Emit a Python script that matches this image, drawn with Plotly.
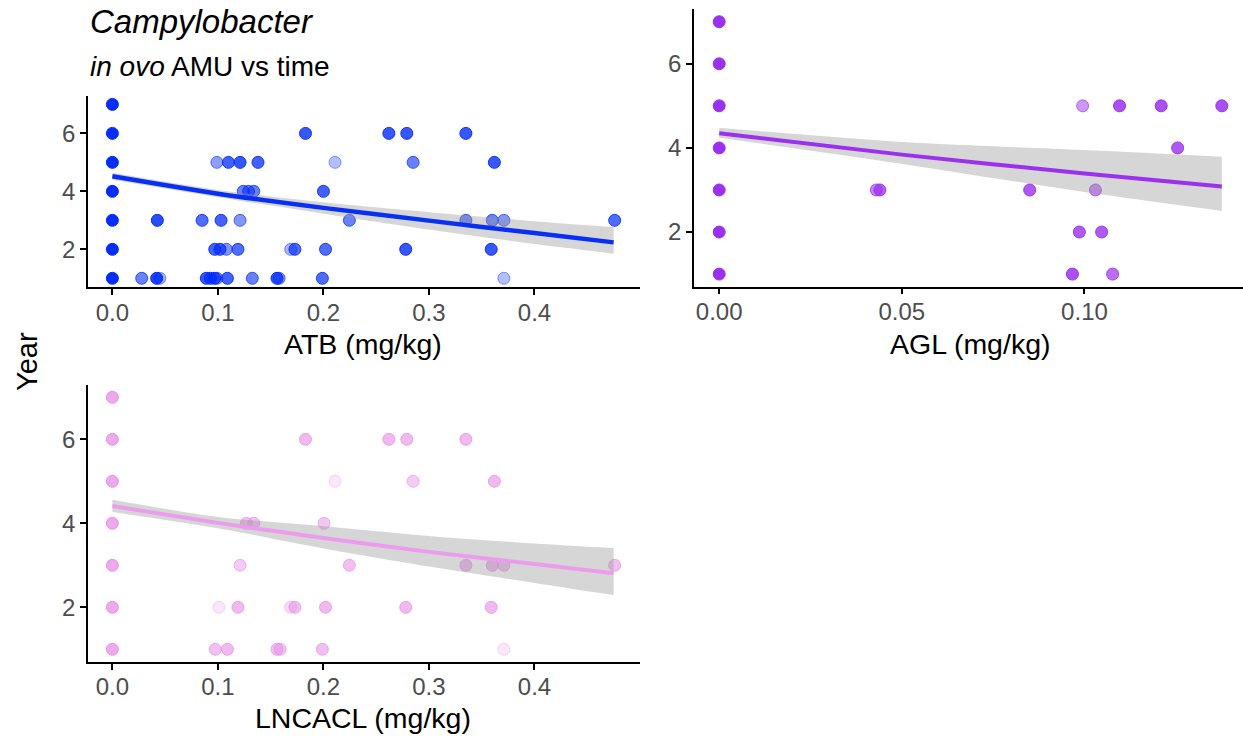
import plotly.graph_objects as go

# ---------------- data ----------------
# ATB panel (x = ATB mg/kg, y = Year, alpha = point opacity as seen)
atb_x = [0,
         0, 0.183, 0.262, 0.279, 0.335,
         0, 0.099, 0.110, 0.121, 0.138, 0.211, 0.285, 0.362,
         0, 0.124, 0.129, 0.134, 0.200,
         0, 0.0426, 0.085, 0.103, 0.121, 0.2246, 0.335, 0.360, 0.371, 0.476,
         0, 0.097, 0.102, 0.108, 0.119, 0.169, 0.173, 0.202, 0.278, 0.359,
         0, 0.0278, 0.042, 0.045, 0.089, 0.093, 0.097, 0.099, 0.109, 0.1326, 0.156, 0.158, 0.199, 0.371]
atb_year = [7,
            6, 6, 6, 6, 6,
            5, 5, 5, 5, 5, 5, 5, 5,
            4, 4, 4, 4, 4,
            3, 3, 3, 3, 3, 3, 3, 3, 3, 3,
            2, 2, 2, 2, 2, 2, 2, 2, 2, 2,
            1, 1, 1, 1, 1, 1, 1, 1, 1, 1, 1, 1, 1, 1]
atb_alpha = [1,
             1, 0.8, 0.8, 0.8, 0.8,
             1, 0.45, 0.75, 0.8, 0.75, 0.3, 0.6, 0.8,
             1, 0.6, 0.6, 0.6, 0.75,
             1, 0.85, 0.7, 0.75, 0.5, 0.6, 0.6, 0.6, 0.5, 0.7,
             1, 0.75, 0.75, 0.5, 0.7, 0.35, 0.7, 0.7, 0.8, 0.8,
             1, 0.6, 0.9, 0.35, 0.8, 0.8, 0.8, 0.5, 0.75, 0.6, 0.8, 0.5, 0.7, 0.3]

# AGL panel
agl_x = [0, 0, 0, 0, 0, 0, 0,
         0.043, 0.044, 0.085, 0.103,
         0.0995, 0.1096, 0.121, 0.1376,
         0.1255,
         0.0986, 0.1047,
         0.0967, 0.1077]
agl_year = [7, 6, 5, 4, 3, 2, 1,
            3, 3, 3, 3,
            5, 5, 5, 5,
            4,
            2, 2,
            1, 1]
agl_alpha = [1, 1, 1, 1, 1, 1, 1,
             0.6, 0.75, 0.8, 0.6,
             0.5, 0.85, 0.85, 0.85,
             0.8,
             0.8, 0.8,
             0.85, 0.7]

# LNCACL panel
lnc_x = [0,
         0, 0.183, 0.262, 0.279, 0.335,
         0, 0.211, 0.285, 0.362,
         0, 0.127, 0.134, 0.2006,
         0, 0.121, 0.2246, 0.335, 0.360, 0.371, 0.476,
         0, 0.101, 0.119, 0.169, 0.173, 0.202, 0.278, 0.359,
         0, 0.0975, 0.109, 0.156, 0.159, 0.199, 0.371]
lnc_year = [7,
            6, 6, 6, 6, 6,
            5, 5, 5, 5,
            4, 4, 4, 4,
            3, 3, 3, 3, 3, 3, 3,
            2, 2, 2, 2, 2, 2, 2, 2,
            1, 1, 1, 1, 1, 1, 1]
lnc_alpha = [0.75,
             0.75, 0.6, 0.6, 0.6, 0.6,
             0.75, 0.2, 0.45, 0.6,
             0.75, 0.55, 0.55, 0.5,
             0.75, 0.45, 0.55, 0.6, 0.6, 0.55, 0.55,
             0.75, 0.2, 0.6, 0.3, 0.55, 0.6, 0.6, 0.6,
             0.75, 0.55, 0.6, 0.55, 0.5, 0.55, 0.2]

# fitted trends with confidence band
atb_fit_x = [0, 0.1, 0.2, 0.3, 0.4, 0.475]
atb_fit_y = [4.52, 3.92, 3.43, 2.99, 2.56, 2.24]
atb_fit_lo = [4.40, 3.80, 3.23, 2.68, 2.18, 1.85]
atb_fit_hi = [4.64, 4.05, 3.62, 3.28, 2.97, 2.76]

agl_fit_x = [0, 0.05, 0.10, 0.1376]
agl_fit_y = [4.35, 3.84, 3.39, 3.08]
agl_fit_lo = [4.24, 3.62, 2.95, 2.50]
agl_fit_hi = [4.48, 4.14, 3.95, 3.79]

lnc_fit_x = [0, 0.1, 0.2, 0.3, 0.4, 0.475]
lnc_fit_y = [4.41, 4.01, 3.65, 3.32, 3.03, 2.81]
lnc_fit_lo = [4.27, 3.88, 3.40, 2.97, 2.58, 2.29]
lnc_fit_hi = [4.56, 4.15, 3.93, 3.70, 3.52, 3.41]

y_ticks = [2, 4, 6]
atb_ticks = [0.0, 0.1, 0.2, 0.3, 0.4]
agl_ticks = [0.00, 0.05, 0.10]
lnc_ticks = [0.0, 0.1, 0.2, 0.3, 0.4]

# ---------------- figure ----------------
W, H = 1243, 736
FONT = "Liberation Sans, Arial, sans-serif"


def rgba(rgb, a):
    return "rgba(%d,%d,%d,%.3f)" % (rgb[0], rgb[1], rgb[2], a)


fig = go.Figure()


def add_panel(xs, ys, alphas, fx, fy, flo, fhi, rgb, line_rgb, lw, xa, ya):
    fig.add_trace(go.Scatter(
        x=xs, y=ys, mode="markers", xaxis=xa, yaxis=ya, showlegend=False,
        marker=dict(size=12, color=[rgba(rgb, a) for a in alphas],
                    line=dict(width=1, color=[rgba(rgb, min(1, a + 0.15)) for a in alphas])),
        hoverinfo="skip"))
    fig.add_trace(go.Scatter(
        x=fx, y=flo, mode="lines", line=dict(width=0, shape="spline", smoothing=0.8),
        xaxis=xa, yaxis=ya, showlegend=False, hoverinfo="skip"))
    fig.add_trace(go.Scatter(
        x=fx, y=fhi, mode="lines", fill="tonexty",
        fillcolor="rgba(153,153,153,0.4)", line=dict(width=0, shape="spline", smoothing=0.8),
        xaxis=xa, yaxis=ya, showlegend=False, hoverinfo="skip"))
    fig.add_trace(go.Scatter(
        x=fx, y=fy, mode="lines",
        line=dict(color=rgba(line_rgb, 1), width=lw, shape="spline", smoothing=0.8),
        xaxis=xa, yaxis=ya, showlegend=False, hoverinfo="skip"))


add_panel(atb_x, atb_year, atb_alpha, atb_fit_x, atb_fit_y, atb_fit_lo, atb_fit_hi,
          (5, 45, 250), (8, 48, 245), 4.5, "x", "y")
add_panel(agl_x, agl_year, agl_alpha, agl_fit_x, agl_fit_y, agl_fit_lo, agl_fit_hi,
          (155, 48, 238), (155, 48, 238), 4, "x2", "y2")
add_panel(lnc_x, lnc_year, lnc_alpha, lnc_fit_x, lnc_fit_y, lnc_fit_lo, lnc_fit_hi,
          (230, 140, 230), (236, 156, 236), 4, "x3", "y3")


def px_x(p):
    return p / W


def px_y(p):
    return 1 - p / H


axis_common = dict(showline=True, linecolor="black", linewidth=1.5, ticks="outside",
                   ticklen=6, tickwidth=1.5, tickcolor="black", showgrid=False,
                   zeroline=False, tickfont=dict(family=FONT, size=24, color="#4d4d4d"),
                   fixedrange=True)
xstand = dict(ticklabelstandoff=-3)

fig.update_layout(
    width=W, height=H, margin=dict(l=0, r=0, t=0, b=0),
    paper_bgcolor="white", plot_bgcolor="white",
    font=dict(family=FONT),
    xaxis=dict(axis_common, **xstand, domain=[px_x(88), px_x(640)], range=[-0.0231, 0.500],
               tickvals=atb_ticks, ticktext=["%.1f" % v for v in atb_ticks], anchor="y"),
    yaxis=dict(axis_common, domain=[px_y(287), px_y(95.7)], range=[0.7, 7.3],
               tickvals=y_ticks, anchor="x"),
    xaxis2=dict(axis_common, **xstand, domain=[px_x(694), 1.0], range=[-0.0069, 0.1434],
                tickvals=agl_ticks, ticktext=["%.2f" % v for v in agl_ticks], anchor="y2"),
    yaxis2=dict(axis_common, domain=[px_y(286.7), px_y(9.1)], range=[0.7, 7.3],
                tickvals=y_ticks, anchor="x2"),
    xaxis3=dict(axis_common, **xstand, domain=[px_x(88), px_x(640)], range=[-0.0231, 0.500],
                tickvals=lnc_ticks, ticktext=["%.1f" % v for v in lnc_ticks], anchor="y3"),
    yaxis3=dict(axis_common, domain=[px_y(661.9), px_y(384.7)], range=[0.7, 7.3],
                tickvals=y_ticks, anchor="x3"),
)

ann = [
    dict(text="<i>Campylobacter</i>", x=px_x(88), y=px_y(21), xanchor="left", yanchor="middle",
         font=dict(size=33, color="black")),
    dict(text="<i>in ovo</i> AMU vs time", x=px_x(88), y=px_y(66), xanchor="left", yanchor="middle",
         font=dict(size=28, color="black")),
    dict(text="Year", x=px_x(27), y=px_y(362), xanchor="center", yanchor="middle", textangle=-90,
         font=dict(size=29, color="black")),
    dict(text="ATB (mg/kg)", x=px_x(363), y=px_y(344), xanchor="center", yanchor="middle",
         font=dict(size=28.5, color="black")),
    dict(text="AGL (mg/kg)", x=px_x(970), y=px_y(344), xanchor="center", yanchor="middle",
         font=dict(size=28.5, color="black")),
    dict(text="LNCACL (mg/kg)", x=px_x(363), y=px_y(718), xanchor="center", yanchor="middle",
         font=dict(size=28.5, color="black")),
]
for a in ann:
    a.update(xref="paper", yref="paper", showarrow=False)
    a["font"]["family"] = FONT
fig.update_layout(annotations=ann)

fig.write_html("out.html", config={"displayModeBar": False},
               post_script="document.body.style.margin='0';")
